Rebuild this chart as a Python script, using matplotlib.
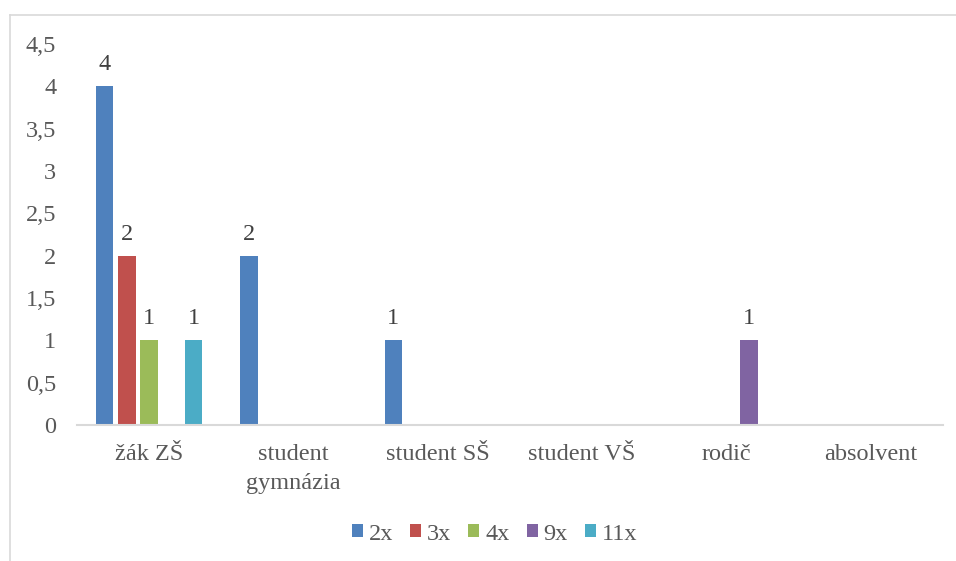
import numpy as np
import matplotlib
matplotlib.use("Agg")
import matplotlib.pyplot as plt
from matplotlib.lines import Line2D
from matplotlib.ticker import FixedLocator, FuncFormatter

categories = ["žák ZŠ", "student\ngymnázia", "student SŠ", "student VŠ", "rodič", "absolvent"]
series_names = ["2x", "3x", "4x", "9x", "11x"]
values_2x = [4, 2, 1, 0, 0, 0]
values_3x = [2, 0, 0, 0, 0, 0]
values_4x = [1, 0, 0, 0, 0, 0]
values_9x = [0, 0, 0, 0, 1, 0]
values_11x = [1, 0, 0, 0, 0, 0]
series_values = [values_2x, values_3x, values_4x, values_9x, values_11x]
colors = ["#4F81BD", "#C0504D", "#9BBB59", "#8064A2", "#4BACC6"]
y_ticks = [0, 0.5, 1, 1.5, 2, 2.5, 3, 3.5, 4, 4.5]

plt.rcParams["font.family"] = "serif"
plt.rcParams["font.serif"] = ["Liberation Serif", "DejaVu Serif"]

FS = 17.5
W, H = 956, 561
fig = plt.figure(figsize=(W / 100, H / 100), dpi=100)
ax = fig.add_axes([77 / W, (H - 425) / H, (943 - 77) / W, (425 - 44) / H])

x = np.arange(len(categories))
step = 0.1545
width = 0.121
for i, (name, vals, col) in enumerate(zip(series_names, series_values, colors)):
    pos = x + (i - 2) * step
    bars = ax.bar(pos, vals, width=width, color=col, label=name, zorder=2)
    for b, v in zip(bars, vals):
        if v > 0:
            ax.annotate(f"{v:g}", (b.get_x() + b.get_width() / 2, v),
                        xytext=(0, 8), textcoords="offset points",
                        ha="center", va="bottom", fontsize=FS, color="#404040")

ax.set_xlim(-0.5, len(categories) - 0.5)
ax.set_ylim(0, 4.5)
ax.yaxis.set_major_locator(FixedLocator(y_ticks))
ax.yaxis.set_major_formatter(FuncFormatter(lambda v, p: f"{v:g}".replace(".", ",")))
ax.set_xticks(x)
ax.set_xticklabels(categories, linespacing=1.45)
ax.tick_params(axis="y", length=0, pad=15, labelsize=FS, labelcolor="#595959")
ax.tick_params(axis="x", length=0, pad=14, labelsize=FS, labelcolor="#595959")
for s in ["top", "right", "left"]:
    ax.spines[s].set_visible(False)
ax.spines["bottom"].set_color("#D9D9D9")
ax.spines["bottom"].set_linewidth(1.5)
ax.spines["bottom"].set_zorder(3)

fig.legend(loc="center", bbox_to_anchor=(494.5 / W, 27 / H), ncol=5, frameon=False,
           fontsize=FS, labelcolor="#595959", handlelength=0.45, handleheight=0.45,
           handletextpad=0.25, columnspacing=0.7)

# Outer frame (top and left edges)
fig.add_artist(Line2D([9.5 / W, 1.0], [1 - 14.5 / H, 1 - 14.5 / H], color="#D9D9D9", lw=1.2))
fig.add_artist(Line2D([9.5 / W, 9.5 / W], [0, 1 - 14.5 / H], color="#D9D9D9", lw=1.2))

fig.savefig("out.png", dpi=100)
